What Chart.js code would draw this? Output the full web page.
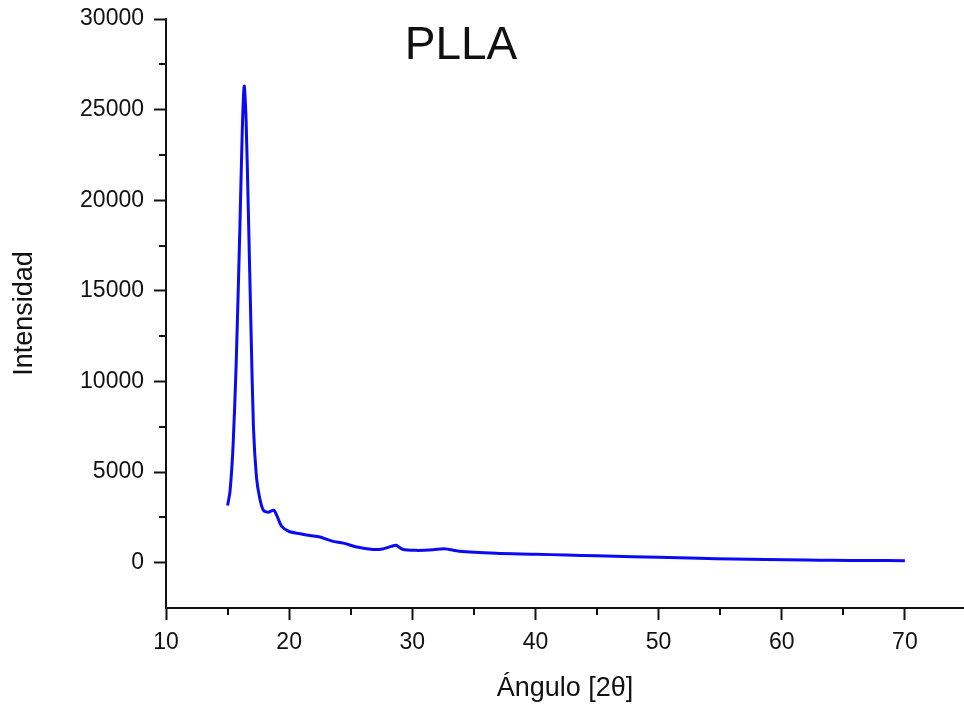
<!DOCTYPE html>
<html>
<head>
<meta charset="utf-8">
<script src="https://cdn.jsdelivr.net/npm/chart.js@4/dist/chart.umd.min.js"></script>
<style>
  html, body { margin: 0; padding: 0; background: #fff; overflow: hidden; }
  canvas { display: block; }
</style>
</head>
<body>
<canvas id="xrd" width="964" height="708"></canvas>
<script>
// PLLA difractograma, valores
const ANGLE = [15.0, 15.2, 15.45, 15.7, 16.0, 16.2, 16.35, 16.5, 16.7, 16.9, 17.1, 17.35, 17.6, 17.9,
  18.3, 18.75, 19.0, 19.4, 20.0, 21.0, 21.7, 22.5, 23.5, 24.4, 25.4, 26.8, 27.6, 28.3, 28.7, 29.2,
  30.3, 31.7, 32.6, 33.8, 36.8, 40, 42.5, 45, 47.9, 50, 53.3, 56, 58.7, 62, 64.1, 67, 70];
const INTENSITY = [3150, 3950, 6500, 11000, 18500, 24000, 26300, 24500, 19000, 13000, 7500, 4700, 3600, 2900,
  2780, 2900, 2600, 2000, 1720, 1580, 1500, 1420, 1190, 1080, 880, 730, 760, 900, 960, 740,
  680, 710, 770, 630, 520, 470, 420, 380, 330, 300, 240, 200, 170, 150, 130, 120, 110];

const X_TICKS = [10, 15, 20, 25, 30, 35, 40, 45, 50, 55, 60, 65, 70];
const X_MAJOR = [10, 20, 30, 40, 50, 60, 70];
const Y_TICKS = [-2500, 0, 2500, 5000, 7500, 10000, 12500, 15000, 17500, 20000, 22500, 25000, 27500, 30000];
const Y_MAJOR = [0, 5000, 10000, 15000, 20000, 25000, 30000];

const FONT = "'Liberation Sans', Arial, sans-serif";
const INK = '#111';

// ticks menores (mas cortos) y titulo dentro del area
const extras = {
  id: 'extras',
  afterDraw(chart) {
    const ctx = chart.ctx;
    const {x, y} = chart.scales;
    const area = chart.chartArea;
    ctx.save();
    ctx.strokeStyle = INK;
    ctx.lineWidth = 2;
    ctx.beginPath();
    X_TICKS.filter(v => !X_MAJOR.includes(v)).forEach(v => {
      const px = Math.round(x.getPixelForValue(v));
      ctx.moveTo(px, area.bottom);
      ctx.lineTo(px, area.bottom + 7);
    });
    Y_TICKS.filter(v => !Y_MAJOR.includes(v) && v > -2500).forEach(v => {
      const py = Math.round(y.getPixelForValue(v));
      ctx.moveTo(area.left, py);
      ctx.lineTo(area.left - 7, py);
    });
    ctx.stroke();
    ctx.fillStyle = INK;
    ctx.font = '46px ' + FONT;
    ctx.textAlign = 'center';
    ctx.textBaseline = 'middle';
    ctx.fillText('PLLA', 461, 46);
    ctx.restore();
  }
};

new Chart(document.getElementById('xrd'), {
  type: 'line',
  data: {
    datasets: [{
      data: ANGLE.map((a, i) => ({x: a, y: INTENSITY[i]})),
      borderColor: '#0a0af5',
      borderWidth: 3,
      pointRadius: 0,
      tension: 0.25,
      fill: false,
    }]
  },
  options: {
    responsive: false,
    animation: false,
    layout: {padding: {top: 19, right: 0, left: 0, bottom: 0}},
    plugins: {
      legend: {display: false},
      tooltip: {enabled: false}
    },
    scales: {
      x: {
        type: 'linear',
        min: 10,
        max: 74.8,
        afterBuildTicks: s => { s.ticks = X_TICKS.map(v => ({value: v})); },
        afterFit: s => { s.height = 100; },
        border: {color: INK, width: 2},
        grid: {
          drawOnChartArea: false,
          tickLength: 12,
          tickWidth: 2,
          tickColor: c => (c.tick && X_MAJOR.includes(c.tick.value)) ? INK : 'rgba(0,0,0,0)'
        },
        ticks: {
          padding: 9,
          color: INK,
          maxRotation: 0,
          autoSkip: false,
          font: {size: 23, family: FONT},
          callback: v => X_MAJOR.includes(v) ? String(v) : ''
        },
        title: {
          display: true,
          text: 'Ángulo [2θ]',
          color: INK,
          padding: {top: 0, bottom: 3},
          font: {size: 27, family: FONT}
        }
      },
      y: {
        min: -2500,
        max: 30000,
        afterBuildTicks: s => { s.ticks = Y_TICKS.map(v => ({value: v})); },
        afterFit: s => { s.width = 166; s.paddingTop = 0; s.paddingBottom = 0; },
        border: {color: INK, width: 2},
        grid: {
          drawOnChartArea: false,
          tickLength: 12,
          tickWidth: 2,
          tickColor: c => (c.tick && Y_MAJOR.includes(c.tick.value)) ? INK : 'rgba(0,0,0,0)'
        },
        ticks: {
          padding: 10,
          color: INK,
          autoSkip: false,
          font: {size: 23, family: FONT},
          callback: v => Y_MAJOR.includes(v) ? String(v) : ''
        },
        title: {
          display: true,
          text: 'Intensidad',
          color: INK,
          padding: {top: 8, bottom: 0},
          font: {size: 27, family: FONT}
        }
      }
    }
  },
  plugins: [extras]
});
</script>
</body>
</html>
